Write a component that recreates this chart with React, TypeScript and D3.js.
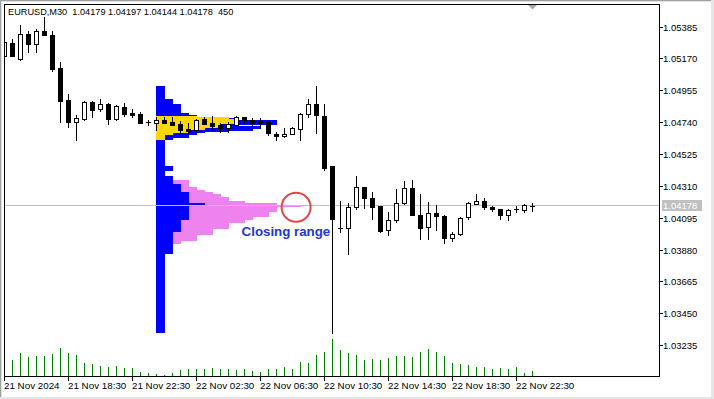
import React from 'react';
import * as d3 from 'd3';

// EURUSD M30 bars, oldest first (the first bar is partly hidden behind the left edge)
const opens = [
  1.05191, 1.05275, 1.05171, 1.05338, 1.05268, 1.05358, 1.05331, 1.0511, 1.04893, 1.04742,
  1.04766, 1.04877, 1.0483, 1.04864, 1.04766, 1.04843, 1.04805, 1.04798, 1.04742, 1.04735,
  1.0476, 1.04746, 1.04733, 1.04697, 1.04688, 1.04766, 1.04739, 1.04726, 1.04702, 1.04726,
  1.04776, 1.04758, 1.04749, 1.04749, 1.04663, 1.0465, 1.04661, 1.04699, 1.04796, 1.04866,
  1.04785, 1.04447, 1.04029, 1.04027, 1.04169, 1.04304, 1.04229, 1.04175, 1.04014, 1.04081,
  1.04196, 1.04297, 1.04117, 1.04034, 1.04128, 1.04108, 1.0396, 1.03987, 1.04101, 1.04189,
  1.04209, 1.04169, 1.04155, 1.04115, 1.04154, 1.04148, 1.04179,
];
const highs = [
  1.05284, 1.05304, 1.05398, 1.0536, 1.05369, 1.05452, 1.05358, 1.05149, 1.04933, 1.04791,
  1.04886, 1.04886, 1.04899, 1.0487, 1.04859, 1.0487, 1.0483, 1.0481, 1.04756, 1.0478,
  1.0478, 1.0478, 1.04749, 1.04739, 1.04764, 1.04778, 1.04785, 1.04739, 1.04742, 1.04785,
  1.04778, 1.04769, 1.04771, 1.04751, 1.04677, 1.04704, 1.0471, 1.04807, 1.04899, 1.04987,
  1.04866, 1.04447, 1.04211, 1.04196, 1.04378, 1.04306, 1.0427, 1.04178, 1.04137, 1.0429,
  1.04348, 1.04355, 1.04256, 1.04206, 1.04186, 1.04119, 1.04002, 1.04101, 1.04206, 1.04256,
  1.04229, 1.04178, 1.04157, 1.04155, 1.04175, 1.04189, 1.04197,
];
const lows = [
  1.05189, 1.05189, 1.05164, 1.05214, 1.05214, 1.05328, 1.0509, 1.04746, 1.04712, 1.04623,
  1.0476, 1.0478, 1.0482, 1.04733, 1.04756, 1.04783, 1.0478, 1.04737, 1.04722, 1.0469,
  1.04737, 1.04724, 1.04672, 1.04668, 1.04685, 1.04731, 1.04697, 1.04679, 1.04675, 1.04724,
  1.04735, 1.04722, 1.04706, 1.04658, 1.04621, 1.04643, 1.0466, 1.04625, 1.0478, 1.04668,
  1.0442, 1.03321, 1.04, 1.03852, 1.04155, 1.04162, 1.04088, 1.04004, 1.0398, 1.04068,
  1.04194, 1.04115, 1.03953, 1.03953, 1.04018, 1.03926, 1.03939, 1.03985, 1.04088, 1.04188,
  1.04155, 1.04142, 1.04088, 1.04081, 1.04135, 1.04135, 1.04144,
];
const closes = [
  1.05282, 1.05191, 1.05336, 1.05268, 1.05358, 1.05331, 1.05104, 1.04888, 1.04746, 1.04769,
  1.04877, 1.04827, 1.04864, 1.04766, 1.04852, 1.048, 1.04793, 1.04739, 1.04741, 1.04756,
  1.04739, 1.04726, 1.0469, 1.04683, 1.04758, 1.04733, 1.04719, 1.04702, 1.04731, 1.04778,
  1.04756, 1.04739, 1.04737, 1.04668, 1.0465, 1.04663, 1.04702, 1.04798, 1.04866, 1.04789,
  1.04436, 1.04088, 1.04029, 1.04169, 1.04304, 1.04229, 1.04169, 1.04011, 1.04081, 1.04196,
  1.04297, 1.04117, 1.04027, 1.04128, 1.04108, 1.0396, 1.03987, 1.04095, 1.04196, 1.04209,
  1.04169, 1.04155, 1.04115, 1.04148, 1.04157, 1.04182, 1.04178,
];
const tickVolumes = [
  1500, 1470, 2070, 1710, 1800, 1800, 1980, 2520, 2070, 1890,
  1170, 1080, 900, 810, 900, 720, 720, 360, 270, 180,
  90, 270, 540, 630, 630, 630, 720, 630, 630, 540,
  630, 450, 360, 630, 630, 810, 630, 1260, 1170, 1890,
  2160, 3330, 2340, 2070, 1890, 1440, 1530, 1440, 1620, 1800,
  1800, 1710, 2160, 2430, 2160, 1800, 1170, 1080, 990, 810,
  810, 630, 720, 630, 810, 270, 450,
];

const symbolTitle = 'EURUSD,M30';
const lastVolume = 450;

// price axis
const priceTicks = [1.05385, 1.0517, 1.04955, 1.0474, 1.04525, 1.0431, 1.04095, 1.0388, 1.03665, 1.0345, 1.03235];

// time axis: bar index and label
const timeTickBars = [0, 8, 16, 24, 32, 40, 48, 56, 64];
const timeTickLabels = [
  '21 Nov 2024', '21 Nov 18:30', '21 Nov 22:30', '22 Nov 02:30', '22 Nov 06:30',
  '22 Nov 10:30', '22 Nov 14:30', '22 Nov 18:30', '22 Nov 22:30',
];

// price profiles: [upper price, lower price, number of bars]
const profileStartBar = 19;
const sessionProfile: [number, number, number][] = [
  [1.04987, 1.04899, 1], [1.04899, 1.04866, 2], [1.04866, 1.04807, 3], [1.04807, 1.04791, 4],
  [1.04791, 1.04778, 5], [1.04778, 1.04768, 9], [1.04768, 1.04758, 10], [1.04758, 1.04724, 15],
  [1.04724, 1.04717, 10], [1.04717, 1.04697, 13], [1.04697, 1.04685, 12], [1.04685, 1.04675, 9],
  [1.04675, 1.04668, 6], [1.04668, 1.04656, 5], [1.04656, 1.04634, 4], [1.04634, 1.04623, 2],
  [1.04623, 1.04447, 1], [1.04447, 1.04414, 2], [1.04414, 1.0438, 1], [1.0438, 1.04326, 2],
  [1.04326, 1.04274, 3], [1.04274, 1.042, 4], [1.042, 1.04178, 6], [1.04178, 1.04083, 4],
  [1.04083, 1.04004, 3], [1.04004, 1.03854, 2], [1.03854, 1.03319, 1],
];
const valueAreaProfile: [number, number, number][] = [
  [1.04785, 1.04778, 5], [1.04778, 1.04762, 9], [1.04762, 1.04729, 10], [1.04729, 1.04702, 8],
  [1.04702, 1.0469, 6], [1.0469, 1.04668, 4], [1.04668, 1.04656, 2], [1.04656, 1.04623, 1],
];
const closingProfile: [number, number, number][] = [
  [1.04353, 1.04304, 4], [1.04304, 1.04285, 5], [1.04285, 1.0427, 6], [1.0427, 1.04256, 7],
  [1.04256, 1.04236, 8], [1.04236, 1.04213, 9], [1.04213, 1.042, 11], [1.042, 1.04184, 15],
  [1.04184, 1.04171, 18], [1.04171, 1.04139, 15], [1.04139, 1.04101, 14], [1.04101, 1.04083, 12],
  [1.04083, 1.04061, 11], [1.04061, 1.0402, 9], [1.0402, 1.03982, 7], [1.03982, 1.03943, 5],
  [1.03943, 1.03921, 3],
];

const closingMarkBar = 36.45;
const FONT = '"Liberation Sans", Arial, sans-serif';

export default function App() {
  const W = 714;
  const H = 399;
  const left = 4.5, right = 659.5, top = 4.5, bottom = 376.5;
  const n = closes.length;
  const x = d3.scaleLinear().domain([0, n - 1]).range([4.5, 4.5 + 8 * (n - 1)]);
  const y = d3.scaleLinear().domain([1.03235, 1.05385]).range([345.7, 27]);
  const vy = d3.scaleLinear().domain([0, 3330]).range([376, 339]);
  const step = x(1) - x(0);
  const py = (p: number) => Math.round(y(p));
  const last = closes[n - 1];
  const lastY = Math.floor(y(last)) + 0.5;

  const profileLeft = x(profileStartBar) - 0.5;
  const rows = (data: [number, number, number][], color: string, key: string) =>
    data.map(([hi, lo, c], i) => (
      <rect key={key + i} x={profileLeft} y={py(hi)} width={c * step + 1}
        height={Math.max(1, py(lo) - py(hi))} fill={color} />
    ));

  const header = `${symbolTitle}  ${opens[n - 1].toFixed(5)} ${highs[n - 1].toFixed(5)} ${lows[n - 1].toFixed(5)} ${closes[n - 1].toFixed(5)}  ${lastVolume}`;

  const circleX = x(closingMarkBar);
  const circleY = y(last) + 1.3;

  return (
    <svg width={W} height={H} style={{ position: 'absolute', left: 0, top: 0, display: 'block', background: '#fff' }}
      shapeRendering="crispEdges">
      <defs>
        <clipPath id="plot">
          <rect x={left + 0.5} y={top + 0.5} width={right - left - 1} height={bottom - top - 1} />
        </clipPath>
      </defs>
      <rect x={0} y={0} width={W} height={H} fill="#fff" />
      {/* window bevel */}
      <rect x={0} y={0} width={W} height={1} fill="#a0a0a0" />
      <rect x={0} y={0} width={1} height={H} fill="#a0a0a0" />
      <rect x={1} y={1} width={W - 1} height={1} fill="#e3e3e3" />
      <rect x={1} y={1} width={1} height={H - 1} fill="#e3e3e3" />
      <rect x={0} y={H - 2} width={W} height={2} fill="#e6e6e6" />
      <rect x={W - 3} y={0} width={3} height={H} fill="#e6e6e6" />

      <g clipPath="url(#plot)">
        {/* profiles */}
        {rows(closingProfile, '#ee82ee', 'c')}
        {rows(sessionProfile, '#0000ff', 's')}
        {rows(valueAreaProfile, '#ffd700', 'v')}

        {/* last price line */}
        <line x1={left} x2={right} y1={lastY} y2={lastY} stroke="#c0c0c0" />

        {/* tick volumes */}
        {tickVolumes.map((v, i) => (
          <line key={'vol' + i} x1={x(i)} x2={x(i)} y1={376} y2={Math.round(vy(v))} stroke="#008000" />
        ))}

        {/* candles */}
        {closes.map((c, i) => {
          const o = opens[i];
          const xc = x(i);
          const yh = py(highs[i]);
          const yl = py(lows[i]);
          const yt = py(Math.max(o, c));
          const yb = py(Math.min(o, c));
          const bull = c > o;
          return (
            <g key={'bar' + i}>
              <line x1={xc} x2={xc} y1={yh} y2={yl + 1} stroke="#000" />
              {yb - yt < 1 ? (
                <line x1={xc - 2.5} x2={xc + 2.5} y1={yt + 0.5} y2={yt + 0.5} stroke="#000" />
              ) : bull ? (
                <rect x={xc - 2} y={yt + 0.5} width={4} height={yb - yt} fill="#fff" stroke="#000" />
              ) : (
                <rect x={xc - 2.5} y={yt} width={5} height={yb - yt + 1} fill="#000" />
              )}
            </g>
          );
        })}
      </g>

      {/* closing range mark */}
      <circle cx={circleX} cy={circleY} r={14.5} fill="none" stroke="#e04848" strokeWidth={2}
        shapeRendering="auto" />
      <text x={circleX - 54.5} y={circleY + 29} fontFamily={FONT} fontWeight="bold" fontSize={13.3}
        fill="#1e35e0" shapeRendering="auto">Closing range</text>

      {/* last bar marker */}
      <path d={`M${x(n - 1) - 4.5},5 L${x(n - 1) + 4.5},5 L${x(n - 1)},9.5 Z`} fill="#a8a8a8" shapeRendering="auto" />

      {/* frame */}
      <rect x={left} y={top} width={right - left} height={bottom - top} fill="none" stroke="#000" />

      {/* price axis */}
      {priceTicks.map((p) => {
        const ty = Math.floor(y(p)) + 0.5;
        return (
          <g key={'p' + p}>
            <line x1={right} x2={right + 3.5} y1={ty} y2={ty} stroke="#000" />
            <text x={right + 3.5} y={ty + 3.6} fontFamily={FONT} fontSize={9.5} fill="#000">{p.toFixed(5)}</text>
          </g>
        );
      })}
      <rect x={right + 2} y={lastY - 5.5} width={40} height={11} fill="#c0c0c0" />
      <text x={right + 3.5} y={lastY + 3.6} fontFamily={FONT} fontSize={9.5} fill="#fff">{last.toFixed(5)}</text>

      {/* time axis */}
      {timeTickBars.map((b, i) => (
        <g key={'t' + b}>
          <line x1={x(b)} x2={x(b)} y1={bottom} y2={bottom + 4} stroke="#000" />
          <text x={x(b) - 0.5} y={389} fontFamily={FONT} fontSize={9.8} fill="#000">{timeTickLabels[i]}</text>
        </g>
      ))}

      {/* header */}
      <text x={8} y={15} fontFamily={FONT} fontSize={9.2} fill="#000" style={{ whiteSpace: 'pre' }}>{header}</text>
    </svg>
  );
}
